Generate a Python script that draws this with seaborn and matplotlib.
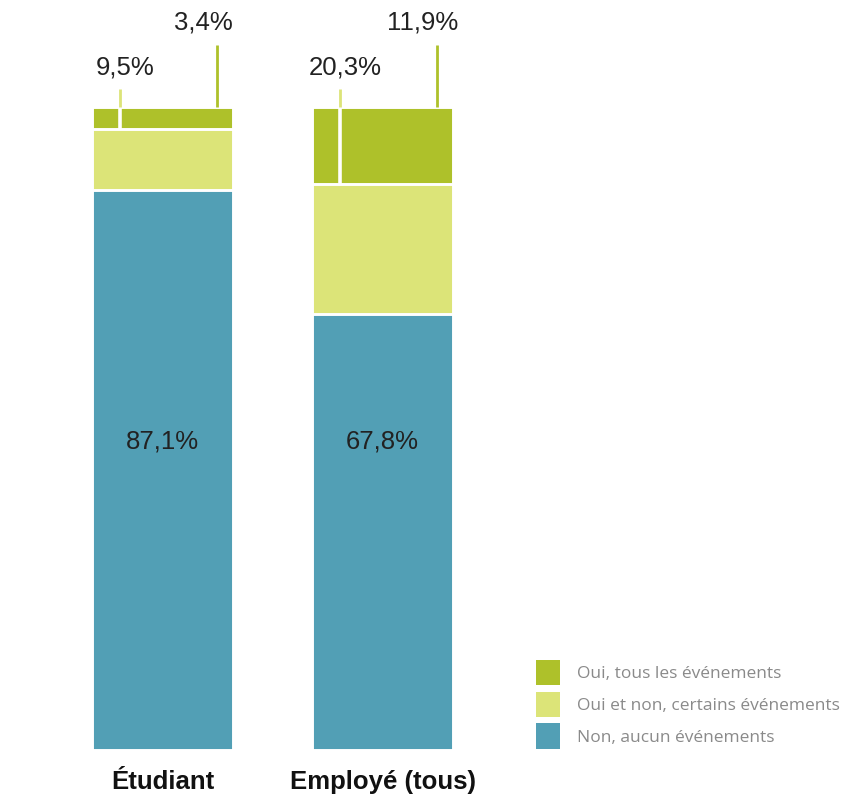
import matplotlib
matplotlib.use("Agg")
import matplotlib.pyplot as plt
from matplotlib.patches import Patch
import seaborn as sns
import pandas as pd

categories = ["Étudiant", "Employé (tous)"]
non_aucun = [87.1, 67.8]
oui_certains = [9.5, 20.3]
oui_tous = [3.4, 11.9]
legend_labels = ["Oui, tous les événements", "Oui et non, certains événements", "Non, aucun événements"]

c_dark = "#aec12a"
c_light = "#dce478"
c_blue = "#529fb5"

sns.set_theme(style="white")
plt.rcParams["font.family"] = ["Liberation Sans", "DejaVu Sans"]

df = pd.DataFrame({
    "cat": categories,
    "blue": non_aucun,
    "light": [a + b for a, b in zip(non_aucun, oui_certains)],
    "total": [a + b + c for a, b, c in zip(non_aucun, oui_certains, oui_tous)],
})

fig = plt.figure(figsize=(8.47, 7.97), dpi=100)
ax = fig.add_axes([0, 0, 1, 1])

for col, color in [("total", c_dark), ("light", c_light), ("blue", c_blue)]:
    sns.barplot(data=df, x="cat", y=col, color=color, width=0.64, saturation=1,
                edgecolor="white", linewidth=2.1, ax=ax)

for i, cat in enumerate(categories):
    light_top = df["light"][i]
    top = df["total"][i]
    ax.text(i, 47.9, f"{non_aucun[i]:.1f}%".replace(".", ","), ha="center", va="center",
            fontsize=18.5, color="#222222")
    xl = i - 0.193
    ax.vlines(xl, light_top, top, color="white", lw=2.6, zorder=5)
    ax.vlines(xl, top, top + 2.8, color=c_light, lw=2.0, zorder=5)
    ax.text(i - 0.17, 106.1, f"{oui_certains[i]:.1f}%".replace(".", ","), ha="center", va="center",
            fontsize=18.5, color="#222222")
    xd = i + 0.248
    ax.vlines(xd, top, top + 9.6, color=c_dark, lw=2.0, zorder=5)
    ax.text(i + 0.184, 113.2, f"{oui_tous[i]:.1f}%".replace(".", ","), ha="center", va="center",
            fontsize=18.5, color="#222222")
    ax.text(i, -4.98, cat, ha="center", va="center", fontsize=18.5, fontweight="bold", color="#111111")

ax.set_xlim(-0.7386, 3.111)
ax.set_ylim(-7.31, 116.64)
ax.axis("off")

handles = [Patch(facecolor=c, edgecolor="none") for c in (c_dark, c_light, c_blue)]
fig.legend(handles, legend_labels, loc="upper left", bbox_to_anchor=(536 / 847, 1 - 660 / 797),
           frameon=False, borderpad=0, borderaxespad=0, handlelength=1.38, handleheight=1.85,
           handletextpad=1.0, labelspacing=0.38,
           prop={"family": "Open Sans", "size": 12.5}, labelcolor="#8a8a8a")

fig.savefig("out.png", dpi=100)
